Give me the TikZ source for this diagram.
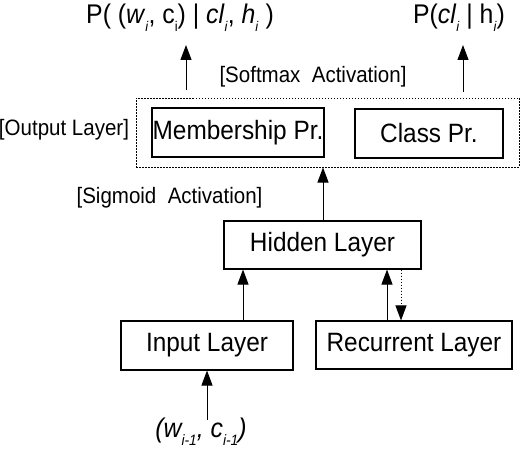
\documentclass[tikz,border=0pt]{standalone}
\usepackage{fontspec}
\setmainfont[FakeStretch=0.92]{Liberation Sans}
\usetikzlibrary{arrows.meta}
\newcommand\lo[1]{\raisebox{-0.3em}{\fontsize{14}{14}\selectfont #1}}
\newcommand\lob[1]{\raisebox{-0.3em}{\fontsize{15}{15}\selectfont #1}}
\tikzset{
  layer/.style={draw, line width=1.1pt, inner sep=0pt, font=\fontsize{26.5}{26.5}\selectfont},
  tag/.style={inner sep=0pt, font=\fontsize{22.3}{22.3}\selectfont},
  prob/.style={inner sep=0pt, font=\fontsize{27}{27}\selectfont},
  arr/.style={line width=1pt, -{Triangle[width=11pt,length=15pt]}},
  darr/.style={line width=1pt, dash pattern=on 1.5pt off 1.5pt, -{Triangle[width=11pt,length=15pt]}},
}
\begin{document}
\begin{tikzpicture}[x=1pt,y=-1pt]
\useasboundingbox (0,0) rectangle (522,452);

% output layer group
\node[draw, line width=1pt, dash pattern=on 1.5pt off 1.5pt, minimum width=383pt, minimum height=69pt] (out) at (327.5,132.5) {};
\node[layer, minimum width=172pt, minimum height=49pt] (mem) at (238,132.5) {Membership Pr.};
\node[layer, minimum width=148pt, minimum height=49pt] (cls) at (429,133.5) {Class Pr.};

% hidden, input and recurrent layers
\node[layer, minimum width=197pt, minimum height=48pt] (hid) at (322.5,245) {Hidden Layer};
\node[layer, minimum width=172pt, minimum height=49pt] (inp) at (207,345.5) {Input Layer};
\node[layer, minimum width=196pt, minimum height=48pt] (rec) at (414,345) {Recurrent Layer};

% labels
\node[tag] (outtag) at (64,130) {[Output Layer]};
\node[tag] (soft) at (313,77) {[Softmax\ \ Activation]};
\node[tag] (sig) at (169.5,198) {[Sigmoid\ \ Activation]};

% probabilities and input
\node[prob] (pm) at (180,18) {P( (\textit{w}\lo{\textit{i}}, c\lo{i}) | \textit{cl}\lo{\textit{i}}, \textit{h}\lo{\textit{i}} )};
\node[prob] (pc) at (459,18) {P(\textit{cl}\lo{\textit{i}} | h\lo{\textit{i}})};
\node[prob] (win) at (201,432) {\textit{(w\lob{i-1}, c\lob{i-1})}};

% connector end points
\coordinate (mfoot) at (186,90);
\coordinate (mtip) at (186,45);
\coordinate (cfoot) at (463,92);
\coordinate (ctip) at (463,45);
\coordinate (wfoot) at (207,420);

% connectors
\draw[arr] (mfoot) -- (mtip);
\draw[arr] (cfoot) -- (ctip);
\draw[arr] (hid.north -| 323,0) -- (out.south -| 323,0);
\draw[arr] (inp.north -| 243,0) -- (hid.south -| 243,0);
\draw[arr] (rec.north -| 387,0) -- (hid.south -| 387,0);
\draw[darr] (hid.south -| 401,0) -- (rec.north -| 401,0);
\draw[arr] (wfoot) -- (wfoot |- inp.south);
\end{tikzpicture}
\end{document}
